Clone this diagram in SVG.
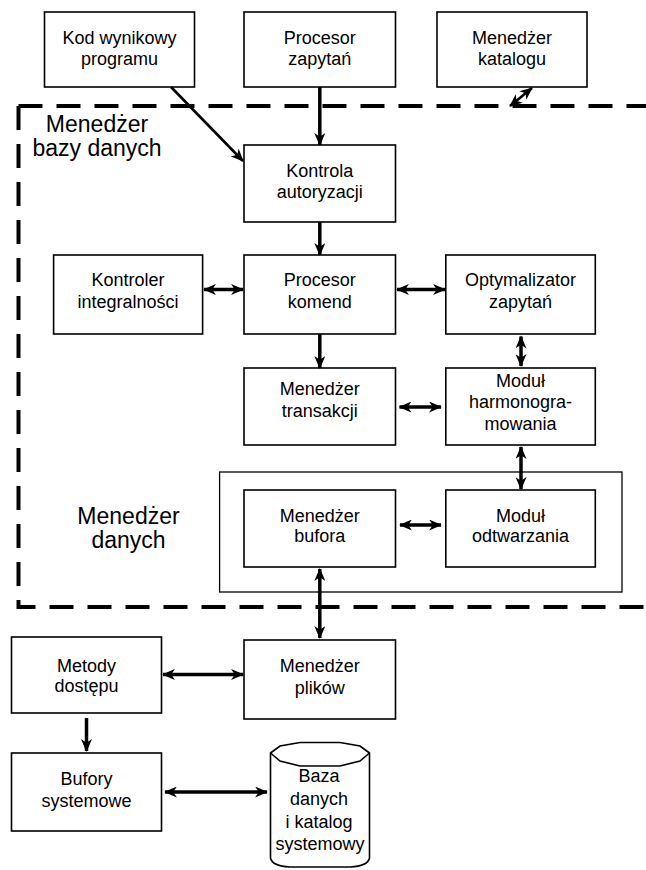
<svg xmlns="http://www.w3.org/2000/svg" width="646" height="870" viewBox="0 0 646 870">
  <style>
    .box { fill: #fff; stroke: #000; stroke-width: 1.6; }
    .frame { fill: none; stroke: #000; stroke-width: 1.3; }
    .t { font-family: "Liberation Sans", Arial, sans-serif; font-size: 18px; fill: #000; text-anchor: middle; }
    .big { font-family: "Liberation Sans", Arial, sans-serif; font-size: 23px; fill: #000; text-anchor: middle; }
    .dash { fill: none; stroke: #000; stroke-width: 4; stroke-dasharray: 24 14; }
    .a { fill: none; stroke: #000; stroke-width: 3.5; }
    .a1 { marker-end: url(#head); }
    .a2 { marker-start: url(#head); marker-end: url(#head); }
    .thin { stroke-width: 2.6; }
  </style>
  <defs>
    <marker id="head" viewBox="0 0 14 12" refX="13" refY="6" markerWidth="14" markerHeight="11" markerUnits="userSpaceOnUse" orient="auto-start-reverse">
      <path d="M0,0 L14,6 L0,12 L4,6 Z" fill="#000"/>
    </marker>
  </defs>

  <!-- database manager boundary -->
  <path class="dash" d="M18.5,106 H646 M18.5,106 V607 H646"/>
  <text class="big"><tspan x="97" y="131.5">Menedżer</tspan><tspan x="97" y="155.5">bazy danych</tspan></text>

  <g id="kod">
    <rect class="box" x="44.5" y="12" width="150" height="75"/>
    <text class="t"><tspan x="119.5" y="43.5">Kod wynikowy</tspan><tspan x="119.5" y="65">programu</tspan></text>
  </g>
  <g id="procesor-zapytan">
    <rect class="box" x="244" y="12" width="151.5" height="75"/>
    <text class="t"><tspan x="319.8" y="43.5">Procesor</tspan><tspan x="319.8" y="65">zapytań</tspan></text>
  </g>
  <g id="menedzer-katalogu">
    <rect class="box" x="437" y="12" width="150" height="75"/>
    <text class="t"><tspan x="512" y="43.5">Menedżer</tspan><tspan x="512" y="65">katalogu</tspan></text>
  </g>
  <g id="kontrola">
    <rect class="box" x="244" y="145" width="151.5" height="77"/>
    <text class="t"><tspan x="319.8" y="176.5">Kontrola</tspan><tspan x="319.8" y="198">autoryzacji</tspan></text>
  </g>
  <g id="kontroler">
    <rect class="box" x="53.6" y="255" width="149" height="79"/>
    <text class="t"><tspan x="128" y="286">Kontroler</tspan><tspan x="128" y="308">integralności</tspan></text>
  </g>
  <g id="procesor-komend">
    <rect class="box" x="244" y="255" width="151.5" height="79"/>
    <text class="t"><tspan x="319.8" y="286">Procesor</tspan><tspan x="319.8" y="308">komend</tspan></text>
  </g>
  <g id="optymalizator">
    <rect class="box" x="445.8" y="255" width="149.5" height="79"/>
    <text class="t"><tspan x="520.5" y="286">Optymalizator</tspan><tspan x="520.5" y="308">zapytań</tspan></text>
  </g>
  <g id="transakcje">
    <rect class="box" x="244" y="368" width="151.5" height="77"/>
    <text class="t"><tspan x="319.8" y="395">Menedżer</tspan><tspan x="319.8" y="416.5">transakcji</tspan></text>
  </g>
  <g id="harmonogram">
    <rect class="box" x="445.8" y="368" width="149.5" height="77"/>
    <text class="t"><tspan x="520.5" y="386.5">Moduł</tspan><tspan x="520.5" y="408">harmonogra-</tspan><tspan x="520.5" y="429.5">mowania</tspan></text>
  </g>

  <!-- data manager -->
  <g id="menedzer-danych">
    <rect class="frame" x="219.6" y="472" width="402.4" height="120"/>
    <text class="big"><tspan x="128.5" y="523.5">Menedżer</tspan><tspan x="128.5" y="548">danych</tspan></text>
  </g>
  <g id="bufor">
    <rect class="box" x="244" y="490" width="151.5" height="77"/>
    <text class="t"><tspan x="319.8" y="521.5">Menedżer</tspan><tspan x="319.8" y="542">bufora</tspan></text>
  </g>
  <g id="odtwarzanie">
    <rect class="box" x="445.8" y="490" width="149.5" height="77"/>
    <text class="t"><tspan x="520.5" y="521.5">Moduł</tspan><tspan x="520.5" y="542">odtwarzania</tspan></text>
  </g>

  <g id="metody">
    <rect class="box" x="11.5" y="637" width="150" height="76"/>
    <text class="t"><tspan x="86.5" y="671.5">Metody</tspan><tspan x="86.5" y="692">dostępu</tspan></text>
  </g>
  <g id="pliki">
    <rect class="box" x="244" y="640" width="151.5" height="79"/>
    <text class="t"><tspan x="319.8" y="672">Menedżer</tspan><tspan x="319.8" y="694">plików</tspan></text>
  </g>
  <g id="bufory">
    <rect class="box" x="11.5" y="753" width="150" height="78"/>
    <text class="t"><tspan x="86.5" y="785">Bufory</tspan><tspan x="86.5" y="806.5">systemowe</tspan></text>
  </g>
  <g id="baza">
    <path class="box" d="M270.5,753 V858 Q272,866 290,867 H350 Q368,866 369.5,858 V753 L360,746 L340,742.5 H300 L280,746 Z"/>
    <path class="box" d="M270.5,753 L280,761 L300,766 H340 L360,761 L369.5,753" fill="none"/>
    <text class="t"><tspan x="319" y="782">Baza</tspan><tspan x="319" y="805">danych</tspan><tspan x="319" y="828">i katalog</tspan><tspan x="320" y="850">systemowy</tspan></text>
  </g>

  <g id="connectors">
    <line class="a a1 thin" x1="171" y1="87" x2="243" y2="161"/>
    <line class="a a1" x1="319.8" y1="87" x2="319.8" y2="145"/>
    <line class="a a2 thin" x1="510" y1="106" x2="532" y2="88"/>
    <line class="a a1" x1="319.8" y1="222" x2="319.8" y2="255"/>
    <line class="a a2" x1="204" y1="289.5" x2="243" y2="289.5"/>
    <line class="a a2" x1="397" y1="289.5" x2="445" y2="289.5"/>
    <line class="a a1" x1="319.8" y1="334" x2="319.8" y2="368"/>
    <line class="a a2" x1="521" y1="336.5" x2="521" y2="366"/>
    <line class="a a2" x1="399.5" y1="407" x2="441" y2="407"/>
    <line class="a a2" x1="521" y1="447" x2="521" y2="489"/>
    <line class="a a2" x1="400" y1="525" x2="441" y2="525"/>
    <line class="a a2" x1="319.8" y1="569" x2="319.8" y2="638"/>
    <line class="a a2" x1="163" y1="674.5" x2="243" y2="674.5"/>
    <line class="a a1" x1="86.5" y1="718" x2="86.5" y2="751"/>
    <line class="a a2" x1="165" y1="792" x2="267" y2="792"/>
  </g>
</svg>
